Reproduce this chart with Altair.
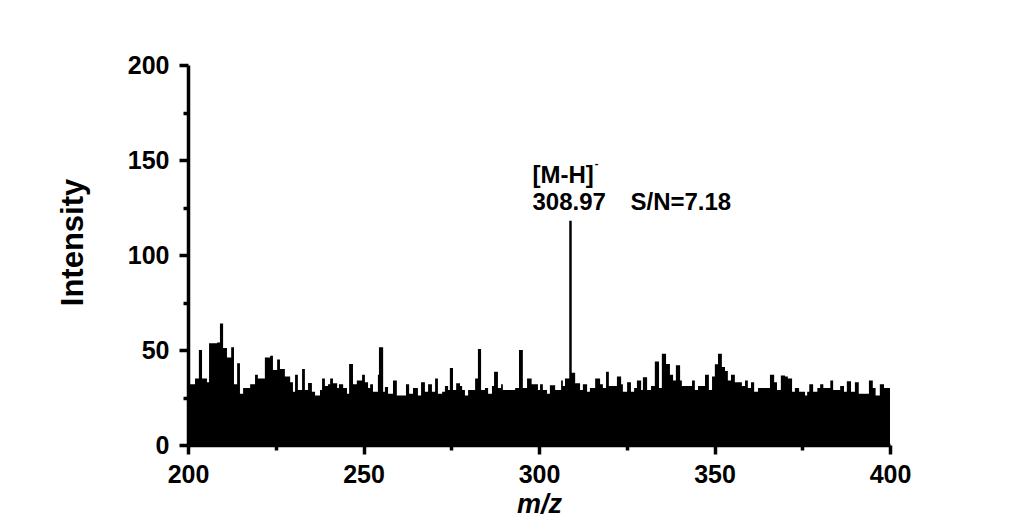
import altair as alt
import pandas as pd

# Spectrum envelope (step segments: start m/z, intensity)
mz = [200.0, 200.3, 202.0, 203.1, 204.0, 205.4, 206.0, 208.3, 209.1, 210.0,
      211.1, 212.3, 213.1, 214.0, 214.8, 215.7, 217.7, 219.1, 219.9, 221.9,
      223.4, 224.2, 225.4, 226.2, 227.6, 229.1, 229.9, 230.5, 231.3, 232.5,
      233.3, 234.2, 235.3, 236.2, 237.6, 238.2, 239.0, 239.9, 240.5, 241.3,
      242.5, 243.0, 244.2, 245.3, 245.9, 247.0, 248.1, 249.6, 250.4, 251.3,
      251.9, 252.7, 254.1, 254.4, 255.6, 256.1, 257.0, 258.4, 259.5, 262.1,
      263.0, 264.1, 265.5, 266.4, 267.5, 268.4, 269.5, 270.4, 271.2, 272.4,
      273.2, 274.1, 274.6, 275.5, 276.4, 277.5, 278.1, 278.9, 279.8, 281.8,
      282.6, 283.5, 284.6, 285.5, 286.6, 287.2, 288.3, 289.2, 289.7, 293.2,
      294.3, 295.4, 296.6, 297.9, 299.7, 300.3, 301.1, 302.3, 303.1, 304.6,
      306.3, 306.8, 307.4, 308.62, 309.32, 310.3, 311.7, 312.5, 313.7, 314.5,
      316.0, 317.4, 318.2, 319.1, 319.9, 322.2, 323.4, 323.9, 325.1, 326.2,
      327.1, 327.9, 329.1, 329.6, 330.8, 331.9, 333.0, 334.2, 335.0, 336.2,
      337.3, 338.2, 339.0, 340.2, 340.7, 343.6, 344.4, 345.3, 347.3, 348.4,
      349.3, 350.1, 351.0, 352.1, 353.0, 353.8, 354.7, 355.8, 357.8, 358.7,
      359.5, 360.4, 361.3, 362.4, 365.8, 367.0, 367.8, 368.9, 370.1, 370.9,
      372.1, 372.9, 374.1, 375.8, 376.4, 377.0, 378.1, 379.3, 380.1, 381.0,
      383.0, 383.8, 385.8, 386.9, 387.7, 388.9, 390.0, 391.1, 394.0, 395.1,
      395.9, 397.1, 398.3, 400.0]
intensity = [33, 32, 35, 50, 35, 33, 53.5, 54, 64, 51,
             46, 51.5, 32, 43, 27, 30, 32, 37, 35, 46,
             47, 39.5, 45, 40, 36, 33, 28, 37, 29, 40,
             29, 32.6, 28, 26, 29, 35, 31, 32, 35, 32.5,
             30, 32, 30, 27, 42.6, 32, 34, 37, 33, 30,
             32, 28, 37, 51.5, 28, 30.5, 27, 34, 26, 32,
             27, 30, 26, 33, 28, 32, 28, 35, 27, 28,
             31, 29, 40.5, 29, 32.5, 31, 29, 26, 29, 35,
             50.5, 29, 30, 27, 31, 38.6, 30, 32, 29, 30,
             50, 30, 35, 32, 29, 32, 29, 27, 31.5, 29,
             34, 31, 35, 118, 38, 32.5, 29, 32, 28, 30,
             35, 32, 30, 38.5, 31, 36, 32, 28, 33, 28,
             30, 34, 29, 35.6, 29, 31, 44, 30, 48, 42.6,
             37, 34, 42, 34, 31, 34, 29, 31, 37, 29,
             36, 42.5, 48, 41, 39, 34, 37, 33, 31, 34,
             30, 33, 28, 30, 37, 33, 29, 36.6, 36, 35,
             28, 30, 28, 26, 28, 32, 28, 30, 32, 30,
             34, 29, 31, 28, 33.5, 28, 33, 27, 34, 30,
             26, 32, 30, 30]

peak_mz = [308.97]
peak_intensity = [118]
ion_label = ["[M-H]"]
ion_charge = ["-"]
peak_label = ["308.97"]
sn_label = ["S/N=7.18"]

x_ticks = [200, 225, 250, 275, 300, 325, 350, 375, 400]
y_ticks = [0, 25, 50, 75, 100, 125, 150, 175, 200]

FONT = "Liberation Sans"

df = pd.DataFrame({"mz": mz, "intensity": intensity})
ann = pd.DataFrame({"mz": peak_mz, "intensity": peak_intensity,
                    "ion": ion_label, "charge": ion_charge,
                    "peak": peak_label, "sn": sn_label})

x_axis = alt.Axis(
    values=x_ticks, labelOverlap=False, labelFlush=False,
    labelExpr="datum.value % 50 == 0 ? datum.label : ''",
    tickSize={"condition": {"test": "datum.value % 50 != 0", "value": 5}, "value": 9},
    tickWidth=3.5, tickColor="black", domainColor="black", domainWidth=3.5,
    labelFont=FONT, labelFontSize=25, labelFontWeight="bold", labelColor="black",
    labelPadding=8, grid=False,
    title="m/z", titleFont=FONT, titleFontSize=27, titleFontWeight="bold",
    titleFontStyle="italic", titleColor="black", titleX=351, titleY=67,
    titleBaseline="alphabetic", titleAlign="center",
)
y_axis = alt.Axis(
    values=y_ticks, labelOverlap=False, labelFlush=False,
    labelExpr="datum.value % 50 == 0 ? datum.label : ''",
    tickSize={"condition": {"test": "datum.value % 50 != 0", "value": 5}, "value": 9},
    tickWidth=3.5, tickColor="black", domainColor="black", domainWidth=3.5,
    labelFont=FONT, labelFontSize=25, labelFontWeight="bold", labelColor="black",
    labelPadding=10, grid=False,
    title="Intensity", titleFont=FONT, titleFontSize=31, titleFontWeight="bold",
    titleColor="black", titleX=-106, titleY=177, titleAngle=270,
    titleBaseline="alphabetic", titleAlign="center",
)

xs = alt.Scale(domain=[200, 400], nice=False, zero=False)
ys = alt.Scale(domain=[0, 200], nice=False)

spectrum = alt.Chart(df).mark_area(color="black", interpolate="step-after").encode(
    x=alt.X("mz:Q", scale=xs, axis=x_axis),
    y=alt.Y("intensity:Q", scale=ys, axis=y_axis),
)

base = alt.Chart(ann).encode(x=alt.X("mz:Q", scale=xs), y=alt.Y("intensity:Q", scale=ys))
txt = dict(font=FONT, fontWeight="bold", fontSize=24, color="black", baseline="alphabetic")
ion = base.mark_text(align="left", dx=-38, dy=-38, **txt).encode(text="ion:N")
charge = base.mark_text(align="center", dx=26, dy=-57, font=FONT, fontWeight="bold",
                        fontSize=11, color="black", baseline="middle").encode(text="charge:N")
peak = base.mark_text(align="left", dx=-38, dy=-11, **txt).encode(text="peak:N")
sn = base.mark_text(align="left", dx=60, dy=-11, **txt).encode(text="sn:N")

chart = alt.layer(spectrum, ion, charge, peak, sn).properties(
    width=702, height=380,
    autosize=alt.AutoSizeParams(type="none"),
    padding={"left": 180, "top": 57, "right": 100, "bottom": 74},
    background="white",
).configure_view(stroke=None)

chart.save("out.html", embed_options={"renderer": "svg", "actions": False})
